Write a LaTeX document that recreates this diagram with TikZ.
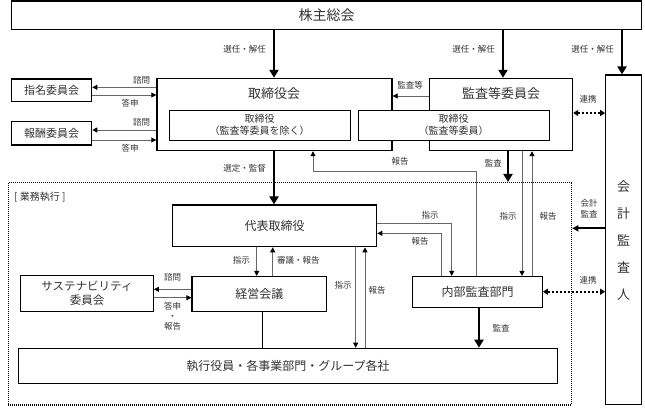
\documentclass[tikz,border=0pt]{standalone}
\usepackage{fontspec}
\setmainfont{Noto Sans CJK JP}
\usetikzlibrary{arrows.meta}
\definecolor{txt}{HTML}{333333}
\definecolor{ln}{HTML}{666666}
\begin{document}
\begin{tikzpicture}[x=1pt,y=-1pt,
  box/.style={draw=black,line width=1.2pt,fill=white,inner sep=0pt,text=txt,font=\fontsize{12}{14}\selectfont},
  ttl/.style={text=txt,inner sep=0pt,font=\fontsize{13}{15}\selectfont},
  lbl/.style={text=txt,inner sep=0pt,font=\fontsize{8.5}{10.5}\selectfont,align=center},
  thinln/.style={draw=ln,line width=0.9pt},
  thinarr/.style={thinln,-{Triangle[length=5pt,width=5pt,color=black]}},
  thickarr/.style={draw=black,line width=2.6pt,-{Triangle[length=8pt,width=9pt]}},
  medarr/.style={draw=black,line width=1.8pt,-{Triangle[length=6pt,width=6pt]}},
  dotarr/.style={draw=black,line width=2pt,dash pattern=on 2pt off 2pt,{Triangle[length=5pt,width=6pt]}-{Triangle[length=5pt,width=6pt]}}
]
\useasboundingbox (0,0) rectangle (645,413);

% dotted execution area
\node[draw=black,dash pattern=on 1pt off 1pt,line width=1.1pt,minimum width=563.4pt,minimum height=222.5pt,inner sep=0pt] (gyomu) at (290,293.75) {};
\node[lbl,anchor=west,font=\fontsize{10}{12}\selectfont] (gyomuT) at (14,196.7) {[ 業務執行 ]};

% boxes
\node[box,line width=1.4pt,minimum width=630pt,minimum height=28.5pt,font=\fontsize{14}{16}\selectfont] (soukai) at (326.5,15.25) {株主総会};
\node[box,line width=1.4pt,minimum width=235pt,minimum height=72pt] (tori) at (274.5,114.5) {};
\node[ttl] (toriT) at (274,94) {取締役会};
\node[box,line width=1.4pt,minimum width=143pt,minimum height=72pt] (kan) at (501,114.5) {};
\node[ttl] (kanT) at (501,94) {監査等委員会};
\node[box,line width=1pt,minimum width=181pt,minimum height=30pt,align=center,font=\fontsize{10}{12.5}\selectfont] (in1) at (259.5,125) {取締役\\（監査等委員を除く）};
\node[box,line width=1pt,minimum width=191pt,minimum height=30pt,align=center,font=\fontsize{10}{12.5}\selectfont] (in2) at (453.5,125) {取締役\\（監査等委員）};
\node[box,minimum width=80pt,minimum height=22.7pt,font=\fontsize{11}{13}\selectfont] (shimei) at (51.7,90.35) {指名委員会};
\node[box,minimum width=80pt,minimum height=23.3pt,font=\fontsize{11}{13}\selectfont] (hoshu) at (51.7,133.35) {報酬委員会};
\node[box,minimum width=36pt,minimum height=329.3pt] (kaikei) at (623.7,239.65) {};
\node[text=txt,inner sep=0pt,align=center,font=\fontsize{13}{27}\selectfont] (kaikeiT) at (623.7,241) {会\\計\\監\\査\\人};
\node[box,minimum width=204pt,minimum height=41.7pt] (daihyo) at (274.7,225.85) {代表取締役};
\node[box,minimum width=134.7pt,minimum height=35.2pt] (keiei) at (259.35,294.1) {経営会議};
\node[box,minimum width=132.6pt,minimum height=36.2pt,align=center,font=\fontsize{11.5}{14}\selectfont] (sus) at (87,293.6) {サステナビリティ\\委員会};
\node[box,minimum width=129.6pt,minimum height=31.2pt] (naibu) at (477.5,292.1) {内部監査部門};
\node[box,minimum width=539.4pt,minimum height=35pt] (shikko) at (288,365.8) {執行役員・各事業部門・グループ各社};

% election arrows
\draw[thickarr] (274,0 |- soukai.south) -- (274,0 |- tori.north);
\node[lbl,anchor=east] (l1) at (266,49) {選任・解任};
\draw[thickarr] (503,0 |- soukai.south) -- (503,0 |- kan.north);
\node[lbl,anchor=east] (l2) at (495,49) {選任・解任};
\draw[thickarr] (622,0 |- soukai.south) -- (622,0 |- kaikei.north);
\node[lbl,anchor=east] (l3) at (614,49) {選任・解任};

% committees
\draw[thinarr] (tori.west |- 0,87.3) -- (shimei.east |- 0,87.3);
\draw[thinarr] (shimei.east |- 0,95) -- (tori.west |- 0,95);
\node[lbl] (l4) at (141.7,80.7) {諮問};
\node[lbl] (l5) at (130,103.3) {答申};
\draw[thinarr] (tori.west |- 0,130) -- (hoshu.east |- 0,130);
\draw[thinarr] (hoshu.east |- 0,140) -- (tori.west |- 0,140);
\node[lbl] (l6) at (141.7,122.5) {諮問};
\node[lbl] (l7) at (130,148) {答申};

% audit committee
\draw[thinarr] (kan.west |- 0,96) -- (tori.east |- 0,96);
\node[lbl] (l8) at (410,85) {監査等};
\draw[dotarr] (kan.east |- 0,113) -- (kaikei.west |- 0,113);
\node[lbl] (l9) at (588,99) {連携};

% board -> representative
\draw[thickarr] (274,0 |- tori.south) -- (274,0 |- daihyo.north);
\node[lbl,anchor=east] (l10) at (266,168) {選定・監督};

% audit committee -> execution
\draw[thickarr] (508,0 |- kan.south) -- (508,0 |- gyomu.north);
\node[lbl,anchor=east] (l11) at (502,163) {監査};
\draw[thinarr] (476,0 |- naibu.north) -- (476,171.7) -- (313,171.7) -- (313,0 |- tori.south);
\node[lbl] (l12) at (400,161.7) {報告};
\draw[thinarr] (522,0 |- kan.south) -- (522,0 |- naibu.north);
\node[lbl] (l13) at (508,216.7) {指示};
\draw[thinarr] (532,0 |- naibu.north) -- (532,0 |- kan.south);
\node[lbl] (l14) at (548,216.7) {報告};

% accounting auditor
\draw[medarr] (kaikei.west |- 0,228.3) -- (gyomu.east |- 0,228.3);
\node[lbl] (l15) at (589,208.7) {会計\\監査};
\draw[dotarr] (naibu.east |- 0,291.7) -- (kaikei.west |- 0,291.7);
\node[lbl] (l16) at (588,280) {連携};

% representative <-> internal audit
\draw[thinarr] (daihyo.east |- 0,223.3) -- (451.7,223.3) -- (451.7,0 |- naibu.north);
\node[lbl] (l17) at (430,215.7) {指示};
\draw[thinarr] (441.7,0 |- naibu.north) -- (441.7,233.3) -- (daihyo.east |- 0,233.3);
\node[lbl] (l18) at (420,241.7) {報告};

% representative <-> management meeting
\draw[thinarr] (256.7,0 |- daihyo.south) -- (256.7,0 |- keiei.north);
\node[lbl,anchor=east] (l19) at (250,260) {指示};
\draw[thinarr] (272.7,0 |- keiei.north) -- (272.7,0 |- daihyo.south);
\node[lbl,anchor=west] (l20) at (277,260) {審議・報告};

% management meeting <-> sustainability
\draw[thinarr] (keiei.west |- 0,289.3) -- (sus.east |- 0,289.3);
\draw[thinarr] (sus.east |- 0,297.7) -- (keiei.west |- 0,297.7);
\node[lbl] (l21) at (172.7,277) {諮問};
\node[lbl,font=\fontsize{8.5}{10}\selectfont] (l22) at (172.7,316.7) {答申\\・\\報告};

% to execution
\draw[draw=black,line width=1.2pt] (262.3,0 |- keiei.south) -- (262.3,0 |- shikko.north);
\draw[thinarr] (355.7,0 |- daihyo.south) -- (355.7,0 |- shikko.north);
\node[lbl] (l23) at (343,285) {指示};
\draw[thinarr] (365,0 |- shikko.north) -- (365,0 |- daihyo.south);
\node[lbl] (l24) at (377,290) {報告};
\draw[thickarr] (479,0 |- naibu.south) -- (479,0 |- shikko.north);
\node[lbl] (l25) at (501,328.3) {監査};
\end{tikzpicture}
\end{document}
